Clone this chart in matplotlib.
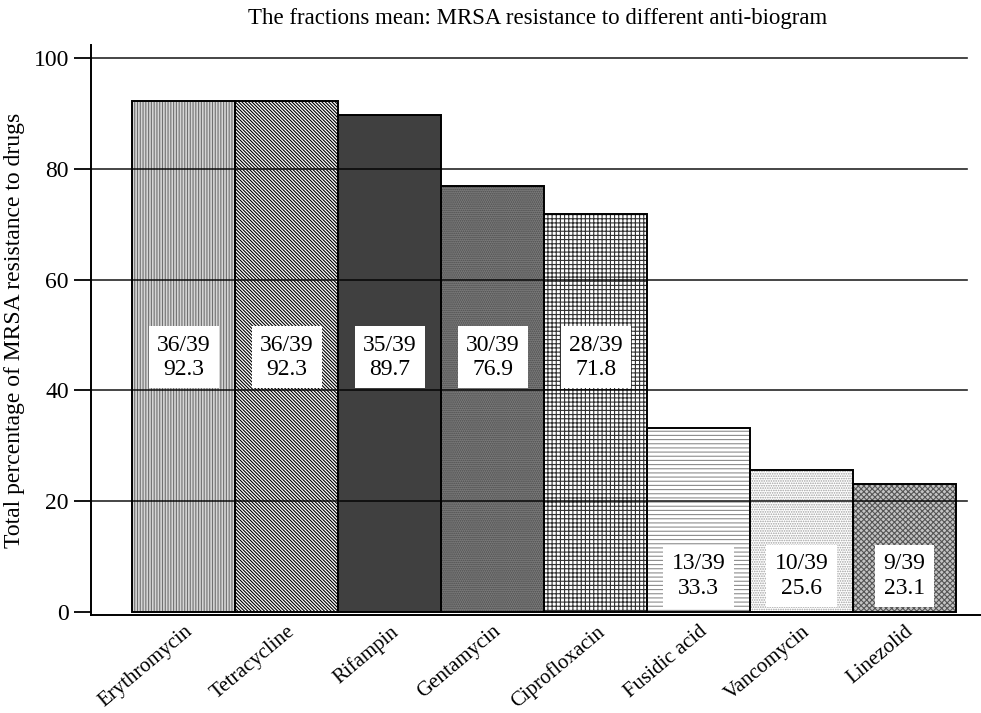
import matplotlib
matplotlib.use("Agg")
import matplotlib.pyplot as plt
import numpy as np

drugs = ["Erythromycin", "Tetracycline", "Rifampin", "Gentamycin",
         "Ciprofloxacin", "Fusidic acid", "Vancomycin", "Linezolid"]
resistant = [36, 36, 35, 30, 28, 13, 10, 9]
total = 39
percent = [92.3, 92.3, 89.7, 76.9, 71.8, 33.3, 25.6, 23.1]
yticks = [0, 20, 40, 60, 80, 100]

# fill, hatch, hatch colour per bar
styles = [
    ("#d6d6d6", "||||||", "#707070"),
    ("white", "\\\\\\\\\\\\\\\\\\\\", "black"),
    ("#404040", None, "#404040"),
    ("#7c7c7c", "........", "#4a4a4a"),
    ("white", "++++", "#303030"),
    ("white", "----", "#8c8c8c"),
    ("white", ".......", "#a0a0a0"),
    ("#c4c4c4", "xxxxxx", "#555555"),
]

plt.rcParams["font.family"] = ["Liberation Serif", "DejaVu Serif"]
plt.rcParams["hatch.linewidth"] = 0.8

fig = plt.figure(figsize=(9.81, 7.13), dpi=100)
ax = fig.add_axes([0.0928, 0.1374, 0.907, 0.7995])

x = np.arange(len(drugs))
for xi, val, (fc, hatch, hc) in zip(x, percent, styles):
    ax.bar(xi, val, width=1.0, color=fc, hatch=hatch, edgecolor=hc,
           linewidth=0, zorder=2)
ax.bar(x, percent, width=1.0, fill=False, edgecolor="black",
       linewidth=1.4, zorder=3)

for xi, val, n in zip(x, percent, resistant):
    ty = 46 if val > 50 else 6.5
    ax.text(xi, ty, f"{n}/{total}\n{val:.1f}", ha="center", va="center",
            fontsize=17, linespacing=1.2, zorder=5,
            bbox=dict(boxstyle="square,pad=0.35", facecolor="white",
                      edgecolor="none"))

ax.set_xlim(-0.9, 7.74)
ax.set_ylim(-0.54, 102.35)
ax.set_yticks(yticks)
ax.set_yticklabels([str(t) for t in yticks], fontsize=17)
for t in yticks[1:]:
    ax.axhline(t, xmax=0.985, color="black", linewidth=1.2, alpha=0.85,
               zorder=4)

ax.set_xticks(x)
ax.set_xticklabels(drugs, rotation=40, ha="right", rotation_mode="anchor",
                   fontsize=15)
ax.tick_params(axis="x", length=0, pad=5)
ax.tick_params(axis="y", length=12, width=1.3, direction="out", pad=4)

for side in ("top", "right"):
    ax.spines[side].set_visible(False)
ax.spines["left"].set_linewidth(1.4)
ax.spines["bottom"].set_linewidth(1.4)

ax.set_ylabel("Total percentage of MRSA resistance to drugs", fontsize=17,
              labelpad=6)
fig.text(0.548, 0.974, "The fractions mean: MRSA resistance to different anti-biogram",
         ha="center", va="center", fontsize=16.5)

fig.savefig("out.png", dpi=100)
